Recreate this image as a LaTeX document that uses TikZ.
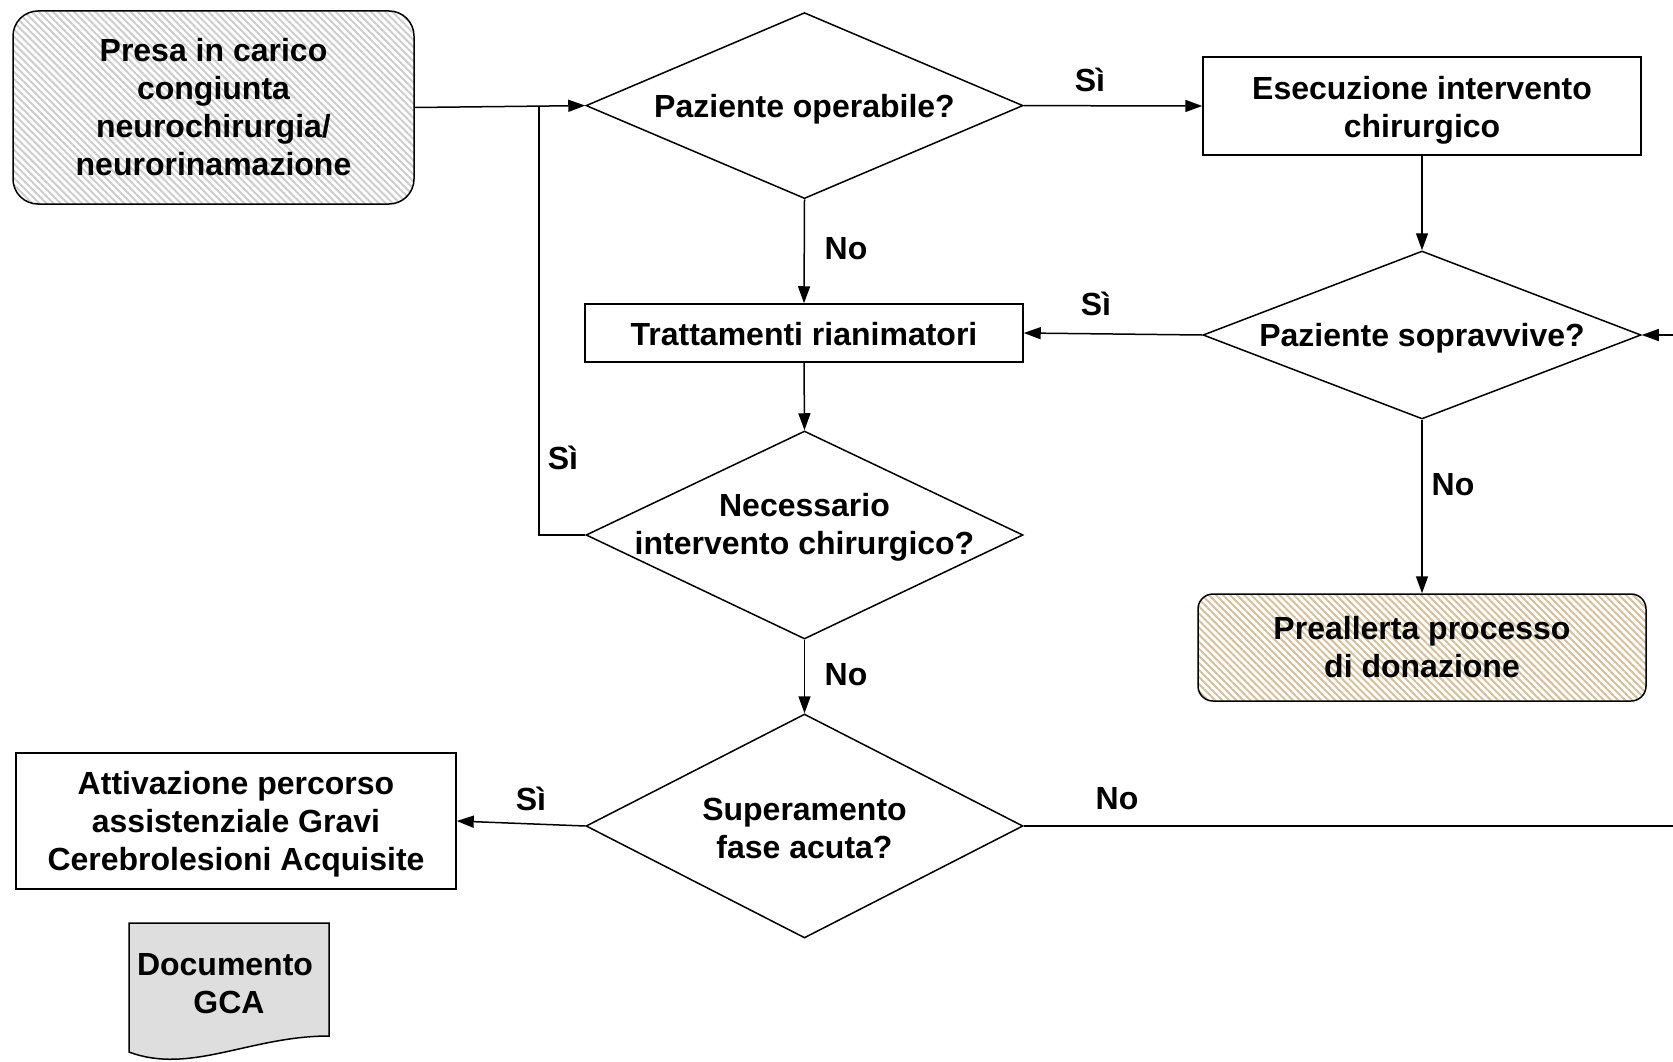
\documentclass[tikz,border=0pt]{standalone}
\usepackage{fontspec}
\setmainfont{Liberation Sans}
\usetikzlibrary{shapes.geometric,arrows.meta,patterns.meta}
\definecolor{hatchgray}{RGB}{205,205,205}
\definecolor{hatchtan}{RGB}{214,192,155}
\definecolor{docgray}{RGB}{222,222,222}
\begin{document}
\begin{tikzpicture}[x=1pt,y=-1pt,
  every node/.style={font=\fontsize{32}{38}\selectfont\bfseries},
  box/.style={draw,line width=1.5pt,inner sep=0pt},
  dia/.style={draw,diamond,line width=1.5pt,inner sep=0pt,minimum width=437pt},
  txt/.style={align=center,inner sep=0pt},
  arr/.style={line width=1.5pt,-{Triangle[length=17pt,width=12pt]}},
  ln/.style={line width=1.5pt},
  lbl/.style={inner sep=0pt}]
\useasboundingbox (0,0) rectangle (1673,1062);

% boxes
\node[box,rounded corners=25pt,minimum width=401pt,minimum height=193pt,
  pattern={Lines[angle=-45,distance=5pt,line width=2pt]},pattern color=hatchgray]
  (b1) at (213.5,107.5) {};
\node[txt] (b1t) at (b1.center) {Presa in carico\\congiunta\\neurochirurgia/\\neurorinamazione};
\node[box,minimum width=438pt,minimum height=98pt] (esec) at (1422,106) {};
\node[txt,yshift=-4.3pt] (esect) at (esec.center) {Esecuzione intervento\\chirurgico};
\node[box,minimum width=438pt,minimum height=58pt] (tratt) at (804,333) {};
\node[txt,yshift=-1pt] (trattt) at (tratt.center) {Trattamenti rianimatori};
\node[box,rounded corners=15pt,minimum width=448pt,minimum height=107pt,
  pattern={Lines[angle=-45,distance=5pt,line width=2pt]},pattern color=hatchtan]
  (prea) at (1422,647.5) {};
\node[txt] (preat) at (prea.center) {Preallerta processo\\di donazione};
\node[box,minimum width=440pt,minimum height=136pt] (attiv) at (236,821) {};
\node[txt,yshift=-3.7pt] (attivt) at (attiv.center) {Attivazione percorso\\assistenziale Gravi\\Cerebrolesioni Acquisite};

% diamonds
\node[dia,minimum height=186pt] (d1) at (804.5,105.6) {};
\node[txt,yshift=-3.2pt] (d1t) at (d1.center) {Paziente operabile?};
\node[dia,minimum height=168pt,minimum width=438pt] (d2) at (1422,335) {};
\node[txt,yshift=-3.2pt] (d2t) at (d2.center) {Paziente sopravvive?};
\node[dia,minimum height=208pt] (d3) at (804.5,535) {};
\node[txt,yshift=-3.2pt] (d3t) at (804.5,524) {Necessario\\intervento chirurgico?};
\node[dia,minimum height=224pt] (d4) at (804.5,826) {};
\node[txt,yshift=-2.7pt] (d4t) at (d4.center) {Superamento\\fase acuta?};

% document
\draw[ln,fill=docgray] (129,923) -- (329,923) -- (329,1036)
  .. controls (250,1036) and (190,1075) .. (129,1052) -- cycle;
\node[txt] (doc) at (229,984) {Documento\hspace*{8pt}\\GCA};

% helper coordinates
\coordinate (lp) at (539,105.6);
\coordinate (r1) at (1673,826);
\coordinate (r2) at (1673,335);

% connectors
\draw[arr] (b1.east) -- (d1.west);
\draw[ln] (d3.west) -| (lp);
\draw[arr] (d1.east) -- (esec.west);
\draw[arr] (esec.south) -- (d2.north);
\draw[arr] (d1.south) -- (tratt.north);
\draw[arr] (d2.west) -- (tratt.east);
\draw[arr] (tratt.south) -- (d3.north);
\draw[arr] (d2.south) -- (prea.north);
\draw[arr] (d3.south) -- (d4.north);
\draw[arr] (d4.west) -- (attiv.east);
\draw[ln] (d4.east) -- (r1);
\draw[arr] (r2) -- (d2.east);

% labels
\node[lbl] (l1) at (1090,80) {Sì};
\node[lbl] (l2) at (846,249) {No};
\node[lbl] (l3) at (1096,304) {Sì};
\node[lbl] (l4) at (1453,485) {No};
\node[lbl] (l5) at (563,458) {Sì};
\node[lbl] (l6) at (846,675) {No};
\node[lbl] (l7) at (531,799) {Sì};
\node[lbl] (l8) at (1117,799) {No};
\end{tikzpicture}
\end{document}
